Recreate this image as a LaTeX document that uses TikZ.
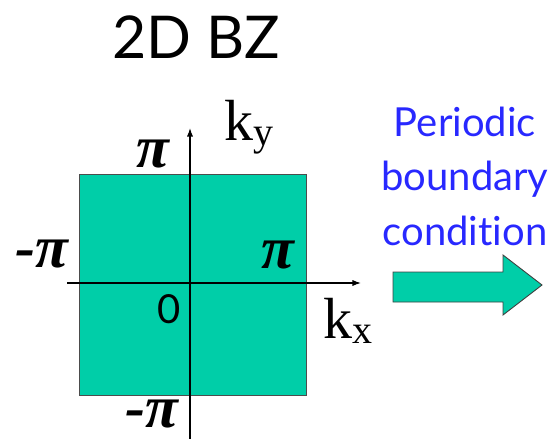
\documentclass[tikz,border=0pt]{standalone}
\usepackage{fontspec}
\setmainfont{Liberation Serif}
\newfontfamily\gillfont[Ligatures={NoCommon,NoContextual}]{Lato}
\usetikzlibrary{arrows.meta}
\definecolor{bzgreen}{RGB}{0,206,168}
\definecolor{pbcblue}{RGB}{40,40,255}

\begin{document}
\begin{tikzpicture}[x=1pt, y=-1pt, >={Latex[length=3mm, width=2.2mm]},
  lbl/.style={inner sep=0pt, anchor=base west, text depth=0pt},
  pilbl/.style={lbl, font=\fontsize{60}{60}\selectfont\bfseries\itshape},
  klbl/.style={lbl, font=\fontsize{58}{58}\selectfont},
  pbc/.style={inner sep=0pt, anchor=base, text=pbcblue, font=\gillfont\fontsize{40}{40}\selectfont},
  axis/.style={->, line width=1.4pt}]
\useasboundingbox (0,0) rectangle (557,439);
% title
\node[lbl, font=\gillfont\fontsize{59}{59}\selectfont] (title) at (112,58) {2D BZ};
% Brillouin zone
\draw[fill=bzgreen, draw=gray!60!black, line width=0.8pt] (79,174) rectangle (306,395);
\coordinate (xa) at (67,283);
\coordinate (xb) at (361,283);
\coordinate (ya) at (190,439);
\coordinate (yb) at (190,128);
\draw[axis] (xa) -- (xb);
\draw[axis] (ya) -- (yb);
\node[klbl] (ky) at (224,140) {k\raisebox{-5pt}{\fontsize{40}{40}\selectfont y}};
\node[klbl] (kx) at (323,338) {k\raisebox{-5pt}{\fontsize{40}{40}\selectfont x}};
\node[pilbl] (pit) at (136,167) {π};
\node[pilbl] (pir) at (261,268) {π};
\node[pilbl] (pil) at (15,267) {-π};
\node[pilbl] (pib) at (125,427) {-π};
\node[lbl, font=\gillfont\fontsize{40}{40}\selectfont] (zero) at (157,323) {0};
% periodic boundary condition
\node[pbc] (pbc1) at (465,136) {Periodic};
\node[pbc] (pbc2) at (465,190) {boundary};
\node[pbc] (pbc3) at (465,245) {condit\kern0pt ion};
\draw[fill=bzgreen, draw=gray!50!black, line width=0.9pt]
  (393,272) -- (503,272) -- (503,255) -- (542,285) -- (503,315) -- (503,302) -- (393,302) -- cycle;
\end{tikzpicture}
\end{document}
